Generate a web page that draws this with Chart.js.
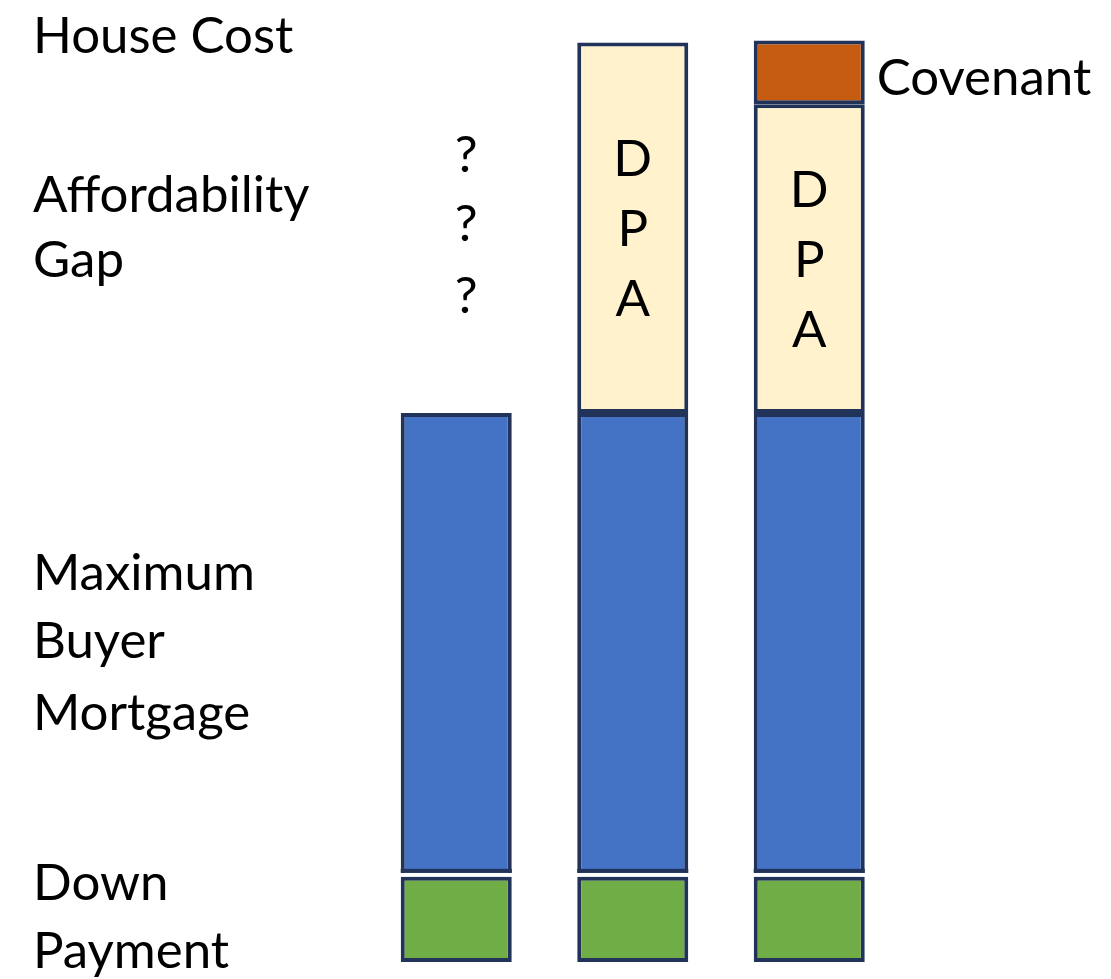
<!DOCTYPE html>
<html>
<head>
<meta charset="utf-8">
<style>
  html, body { margin: 0; padding: 0; background: #ffffff; }
  #wrap { width: 1111px; height: 979px; }
</style>
<script src="https://cdn.jsdelivr.net/npm/chart.js@4/dist/chart.umd.min.js"></script>
</head>
<body>
<div id="wrap"><canvas id="c" width="1111" height="979"></canvas></div>
<script>
// ---- data ----
const categories = ['Gap', 'DPA', 'DPA + Covenant'];
const downPayment = [20, 20, 20];
const maxMortgage = [109, 109, 109];
const dpa = [null, 87, 72.5];
const covenant = [null, null, 15];
const rowLabels = [['House Cost'], ['Affordability', 'Gap'], ['Maximum', 'Buyer', 'Mortgage'], ['Down', 'Payment']];
const dpaLetters = ['D', 'P', 'A'];
const gapMarks = ['?', '?', '?'];
const covenantLabel = 'Covenant';

const FONT = '51px Lato, "Open Sans", sans-serif';
const BORDER = '#22335a';
const BW = 4;

const textPlugin = {
  id: 'texts',
  afterDatasetsDraw(chart) {
    const ctx = chart.ctx;
    // white gap between mortgage and down payment segments
    const blueMeta = chart.getDatasetMeta(1);
    blueMeta.data.forEach(el => {
      const p = el.getProps(['x', 'width', 'base'], true);
      const l = p.x - p.width / 2, w = p.width;
      ctx.save();
      ctx.fillStyle = '#ffffff';
      ctx.fillRect(l - 1, p.base - 4, w + 2, 4);
      ctx.fillStyle = BORDER;
      ctx.fillRect(l, p.base - 4 - BW, w, BW);
      ctx.restore();
    });
  },
  afterDraw(chart) {
    const ctx = chart.ctx;
    ctx.save();
    ctx.fillStyle = '#000000';
    ctx.font = FONT;
    ctx.textBaseline = 'alphabetic';
    // left row labels
    const baselines = [[53], [212, 277], [590, 658, 730], [900, 968]];
    ctx.textAlign = 'left';
    rowLabels.forEach((lines, i) => {
      lines.forEach((t, j) => ctx.fillText(t, 33, baselines[i][j]));
    });
    // DPA letters centred in the DPA segments
    ctx.textAlign = 'center';
    const dpaMeta = chart.getDatasetMeta(2);
    dpaMeta.data.forEach((el, i) => {
      if (dpa[i] == null) return;
      const p = el.getProps(['x', 'y', 'base'], true);
      const cy = (p.y + p.base) / 2;
      dpaLetters.forEach((t, j) => ctx.fillText(t, p.x, cy + (j - 1) * 70 + 18));
    });
    // question marks over the first bar
    const m0 = chart.getDatasetMeta(1).data[0].getProps(['x'], true);
    const qBase = [172, 241, 313];
    gapMarks.forEach((t, j) => ctx.fillText(t, m0.x + 10, qBase[j]));
    // covenant label
    const cov = chart.getDatasetMeta(3).data[2].getProps(['x', 'width', 'y', 'base'], true);
    ctx.textAlign = 'left';
    ctx.fillText(covenantLabel, cov.x + cov.width / 2 + 12, (cov.y + cov.base) / 2 + 23);
    ctx.restore();
  }
};

const common = { borderColor: BORDER, borderWidth: BW, borderSkipped: false, categoryPercentage: 1, barPercentage: 0.629 };

new Chart(document.getElementById('c'), {
  type: 'bar',
  data: {
    labels: categories,
    datasets: [
      Object.assign({ label: 'Down Payment', data: downPayment, backgroundColor: '#70AD47' }, common),
      Object.assign({ label: 'Maximum Buyer Mortgage', data: maxMortgage, backgroundColor: '#4472C4' }, common),
      Object.assign({ label: 'DPA', data: dpa, backgroundColor: '#FFF2CC' }, common),
      Object.assign({ label: 'Covenant', data: covenant, backgroundColor: '#C55A11' }, common)
    ]
  },
  options: {
    responsive: false,
    animation: false,
    devicePixelRatio: 1,
    layout: { padding: { left: 368, right: 213.5, top: 0, bottom: 17 } },
    plugins: { legend: { display: false }, tooltip: { enabled: false } },
    scales: {
      x: { stacked: true, display: false },
      y: { stacked: true, display: false, min: 0, max: 226 }
    }
  },
  plugins: [textPlugin]
});
</script>
</body>
</html>
